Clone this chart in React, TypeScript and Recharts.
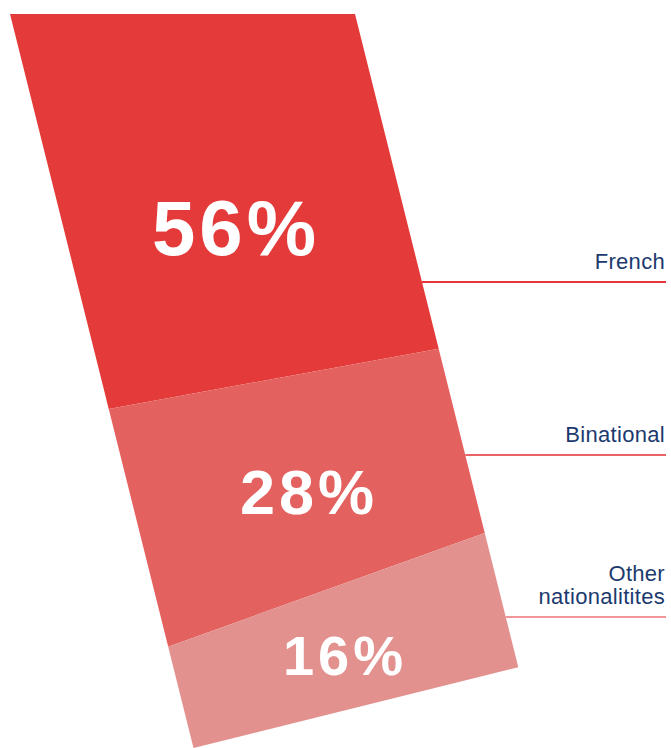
import React from 'react';
import { ComposedChart, Area, XAxis, YAxis } from 'recharts';

// values
const categories = ['French', 'Binational', 'Other nationalitites'];
const shares = [56, 28, 16];
// how much of the band each group takes on the left and right edge
const leftEdge = [53.8, 32.4, 13.8];
const rightEdge = [45.6, 25.1, 18.3];

const fills = ['#e43a39', '#e3615e', '#e2918e'];
const leaderColors = ['#e8353b', '#e86467', '#f2959b'];

const W = 671;
const H = 748;
const SKEW = 0.25; // the band leans right as it goes down
const TOP = 14;

const data = [
  { pos: 0, ...Object.fromEntries(categories.map((c, i) => [c, leftEdge[i]])) },
  { pos: 1, ...Object.fromEntries(categories.map((c, i) => [c, rightEdge[i]])) },
];

// where the percentage labels and the side legend sit
const shareLabels = [
  { x: 236, y: 255, size: 78 },
  { x: 309, y: 514, size: 63 },
  { x: 345, y: 675, size: 56 },
];
const legendRows = [
  { lineY: 282, lines: ['French'] },
  { lineY: 455, lines: ['Binational'] },
  { lineY: 617, lines: ['Other', 'nationalitites'] },
];
const plotRight = 355;
const legendRight = 665;
const font = "'Liberation Sans', Arial, sans-serif";

const skewCss = `
.skewed-area {
  transform: matrix(1, 0, ${SKEW}, 1, ${-SKEW * TOP}, 0);
  transform-origin: 0 0;
  transform-box: view-box;
}
`;

export default function App() {
  return (
    <div style={{ position: 'absolute', left: 0, top: 0, width: W, height: H, background: '#fff' }}>
      <style>{skewCss}</style>
      <ComposedChart
        width={W}
        height={H}
        data={data}
        margin={{ top: TOP, right: W - plotRight, bottom: 0, left: 10 }}
      >
        <XAxis dataKey="pos" type="number" domain={[0, 1]} hide />
        <YAxis type="number" domain={[0, 100]} reversed hide />
        {categories.map((c, i) => (
          <Area
            key={c}
            className="skewed-area"
            type="linear"
            dataKey={c}
            stackId="band"
            fill={fills[i]}
            fillOpacity={1}
            stroke="none"
            dot={false}
            activeDot={false}
            isAnimationActive={false}
          />
        ))}
      </ComposedChart>

      {/* labels drawn over the band */}
      <svg
        width={W}
        height={H}
        style={{ position: 'absolute', left: 0, top: 0, pointerEvents: 'none' }}
      >
        {shareLabels.map((l, i) => (
          <text
            key={'s' + i}
            x={l.x}
            y={l.y}
            textAnchor="middle"
            fill="#fff"
            fontFamily={font}
            fontWeight={700}
            fontSize={l.size}
            letterSpacing={4}
          >
            {shares[i]}%
          </text>
        ))}

        {legendRows.map((r, i) => {
          const startX = plotRight + SKEW * (r.lineY - TOP);
          return (
            <g key={'l' + i}>
              <line
                x1={startX}
                x2={legendRight + 1}
                y1={r.lineY}
                y2={r.lineY}
                stroke={leaderColors[i]}
                strokeWidth={2}
              />
              {r.lines.map((t, j) => (
                <text
                  key={j}
                  x={legendRight}
                  y={r.lineY - 13 - (r.lines.length - 1 - j) * 23}
                  textAnchor="end"
                  fill="#1c3a6e"
                  fontFamily={font}
                  fontSize={22}
                  letterSpacing={0.3}
                >
                  {t}
                </text>
              ))}
            </g>
          );
        })}
      </svg>
    </div>
  );
}
